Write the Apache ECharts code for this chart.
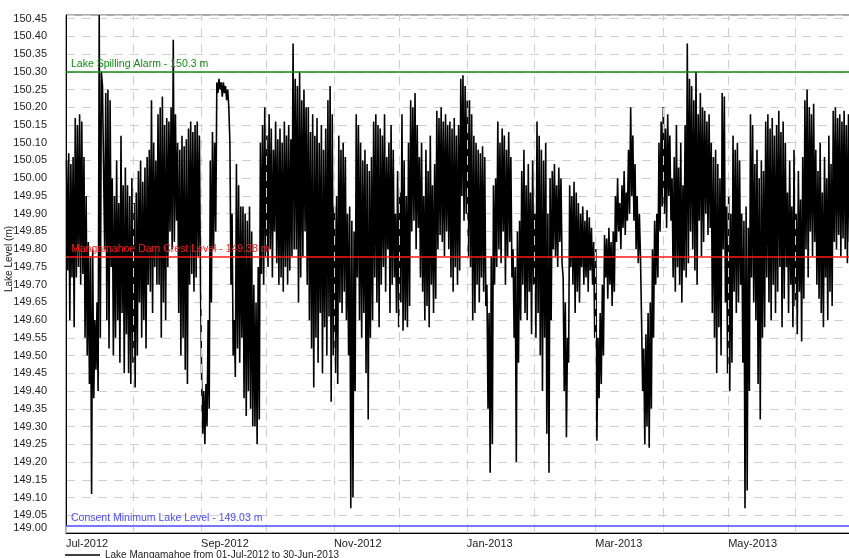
<!DOCTYPE html>
<html>
<head>
<meta charset="utf-8">
<script src="https://cdn.jsdelivr.net/npm/echarts@6/dist/echarts.min.js"></script>
<style>
html,body{margin:0;padding:0;background:#fff;}
#chart{width:849px;height:558px;}
</style>
</head>
<body>
<div id="chart"></div>
<script>
// Daily high / low lake level readings (m)
const julHi = [150.05,150.07,150.04,150.06,150.17,150.15,150.18,150.16,150.06,149.95,149.82,149.78,149.80,149.60,149.65,150.46,150.30,150.26,150.24,150.25,150.22,150.00,149.95,150.05,149.93,150.12,149.98,150.03,149.98,149.95,150.00];
const julLo = [149.74,149.60,149.72,149.58,149.72,149.75,149.70,149.73,149.55,149.50,149.42,149.11,149.38,149.46,149.40,149.55,150.26,149.80,149.60,149.52,149.75,149.50,149.55,149.60,149.48,149.62,149.45,149.56,149.45,149.42,149.48];
const augHi = [149.93,149.96,150.02,150.05,149.99,150.03,150.06,150.08,150.22,150.10,150.05,150.18,150.20,150.23,150.15,150.17,150.16,150.20,150.39,150.18,150.10,150.08,150.12,150.09,150.11,150.14,150.16,150.13,150.15,150.16,150.12];
const augLo = [149.41,149.50,149.65,149.55,149.60,149.52,149.70,149.68,149.62,149.75,149.70,149.70,149.55,149.65,149.60,149.75,149.85,149.80,149.82,149.88,149.62,149.50,149.55,149.46,149.42,149.70,149.73,149.68,149.72,149.78,149.70];
const sepHi = [149.45,149.40,149.42,149.60,150.05,150.13,150.10,150.27,150.28,150.27,150.27,150.26,150.25,150.10,149.90,149.60,150.04,149.98,149.92,149.92,149.90,149.88,149.92,149.85,149.70,149.65,149.75,150.10,150.15,150.20];
const sepLo = [149.28,149.25,149.30,149.35,149.65,149.80,149.85,150.24,150.25,150.23,150.24,150.22,150.20,149.70,149.50,149.44,149.52,149.48,149.55,149.38,149.33,149.40,149.35,149.30,149.30,149.25,149.32,149.73,149.70,149.78];
const octHi = [150.12,150.18,150.14,150.08,150.16,150.11,150.14,150.10,150.16,150.12,150.15,150.11,150.38,150.28,150.26,150.30,150.22,150.25,150.20,150.20,150.13,150.18,150.12,150.17,150.10,150.15,150.08,150.14,150.22,150.26,150.18];
const octLo = [149.75,149.80,149.72,149.85,149.76,149.70,149.72,149.68,149.75,149.70,149.74,149.78,149.80,149.80,149.65,149.72,149.78,149.85,149.70,149.60,149.52,149.41,149.55,149.48,149.62,149.45,149.58,149.50,149.61,149.37,149.50];
const novHi = [149.92,149.95,150.12,150.08,150.10,150.06,149.90,149.92,149.88,149.85,150.18,150.15,150.10,150.05,150.08,150.04,150.02,150.06,150.16,150.18,150.15,150.14,150.12,150.18,150.06,150.10,150.15,150.08,149.90,150.02];
const novLo = [149.45,149.42,149.65,149.62,149.68,149.60,149.50,149.07,149.10,149.40,149.72,149.60,149.55,149.62,149.45,149.32,149.55,149.60,149.72,149.65,149.58,149.70,149.75,149.68,149.80,149.62,149.70,149.72,149.62,149.58];
const decHi = [149.96,150.18,150.05,149.95,150.10,150.22,150.20,150.24,150.15,150.06,150.10,149.95,150.08,150.02,150.12,149.98,150.04,150.19,150.17,150.20,150.16,150.18,150.15,150.16,150.14,150.17,150.12,150.15,150.28,150.29,150.26];
const decLo = [149.65,149.57,149.60,149.58,149.64,149.85,149.88,149.80,149.86,149.72,149.68,149.60,149.64,149.58,149.70,149.62,149.66,149.80,149.84,149.82,149.78,149.85,149.80,149.72,149.68,149.75,149.70,149.74,149.95,149.88,149.90];
const janHi = [150.22,150.22,150.18,150.12,150.10,150.08,150.07,150.09,150.06,149.70,149.62,149.78,149.98,150.00,150.16,150.10,150.14,150.12,150.08,150.13,150.06,149.80,149.75,149.85,149.88,150.02,150.08,149.98,150.04,149.96,150.05];
const janLo = [149.78,149.75,149.60,149.62,149.70,149.65,149.72,149.68,149.64,149.35,149.17,149.25,149.70,149.75,149.80,149.76,149.85,149.70,149.78,149.82,149.72,149.55,149.20,149.48,149.60,149.70,149.62,149.60,149.68,149.56,149.70];
const febHi = [149.90,150.16,150.12,150.08,150.05,150.10,149.90,150.00,150.02,150.04,149.98,150.03,150.00,149.72,149.65,149.55,149.98,149.95,149.99,149.96,149.93,149.90,149.92,149.88,149.91,149.89,149.86,149.82];
const febLo = [149.55,149.62,149.50,149.40,149.55,149.28,149.17,149.60,149.80,149.78,149.75,149.82,149.76,149.40,149.27,149.48,149.75,149.70,149.62,149.68,149.65,149.75,149.70,149.72,149.68,149.74,149.70,149.55];
const marHi = [149.80,149.55,149.62,149.70,149.84,149.83,149.86,149.82,149.85,149.95,150.00,149.93,149.98,150.02,149.96,150.08,150.20,150.12,150.04,149.95,149.90,149.60,149.52,149.56,149.62,149.65,149.80,149.88,149.90,150.10,150.16];
const marLo = [149.26,149.38,149.42,149.50,149.72,149.66,149.70,149.64,149.68,149.82,149.85,149.80,149.86,149.84,149.88,149.90,149.95,149.88,149.80,149.76,149.78,149.40,149.25,149.30,149.24,149.35,149.55,149.70,149.72,149.85,149.92];
const aprHi = [150.20,150.14,150.18,150.12,150.00,150.06,150.15,150.03,150.10,149.98,150.15,150.38,150.28,150.26,150.22,150.30,150.18,150.24,150.20,150.19,150.16,150.18,150.10,150.06,150.08,150.04,150.00,150.24,150.23,149.92];
const aprLo = [149.90,149.86,149.95,149.88,149.72,149.68,149.75,149.70,149.65,149.74,149.72,149.76,149.85,149.80,149.74,149.70,149.88,149.78,149.82,149.90,149.84,149.86,149.62,149.55,149.45,149.58,149.50,149.80,149.65,149.45];
const mayHi = [149.95,149.90,150.12,150.08,150.10,150.05,149.90,149.88,149.92,149.86,150.18,150.15,150.04,150.08,150.00,150.05,150.02,150.16,150.18,150.14,150.17,150.12,150.15,150.19,150.13,150.16,150.10,149.96,150.05,149.92,150.08];
const mayLo = [149.40,149.48,149.68,149.62,149.65,149.70,149.48,149.07,149.12,149.40,149.72,149.65,149.60,149.42,149.32,149.55,149.58,149.72,149.65,149.60,149.70,149.62,149.68,149.75,149.58,149.66,149.75,149.62,149.70,149.58,149.64];
const junHi = [149.90,150.02,149.94,150.06,150.22,150.25,150.20,150.18,150.21,150.08,150.02,150.10,149.96,150.06,150.00,150.12,150.04,150.19,150.20,150.17,150.18,150.16,150.19,150.15,150.18,150.14,150.17,150.16,150.15,150.18];
const junLo = [149.56,149.68,149.54,149.66,149.80,149.72,149.85,149.78,149.82,149.70,149.66,149.62,149.58,149.72,149.60,149.68,149.64,149.82,149.80,149.84,149.78,149.83,149.80,149.76,149.82,149.79,149.75,149.80,149.78,149.81];

// Axis tick labels
const monthTickLabels = ['Jul-2012','','Sep-2012','','Nov-2012','','Jan-2013','','Mar-2013','','May-2013','',''];
const tickYears  = [2012,2012,2012,2012,2012,2012,2013,2013,2013,2013,2013,2013,2013];
const tickMonths = [6,7,8,9,10,11,0,1,2,3,4,5,6];

// Reference levels
const refValues = [150.30, 149.78, 149.02];
const refLabels = ['Lake Spilling Alarm - 150.3 m','Mangamahoe Dam Crest Level - 149.38 m','Consent Minimum Lake Level - 149.03 m'];
const refColors = ['#138a13','#ff1a1a','#4b4bff'];

const seriesName = 'Lake Mangamahoe from 01-Jul-2012 to 30-Jun-2013';

const DAY = 86400000;
const t0 = Date.UTC(2012, 6, 1);
const allHi = [].concat(julHi,augHi,sepHi,octHi,novHi,decHi,janHi,febHi,marHi,aprHi,mayHi,junHi);
const allLo = [].concat(julLo,augLo,sepLo,octLo,novLo,decLo,janLo,febLo,marLo,aprLo,mayLo,junLo);
const data = [];
for (let d = 0; d < allHi.length; d++) {
  data.push([t0 + (d + 0.25) * DAY, allHi[d]]);
  data.push([t0 + (d + 0.75) * DAY, allLo[d]]);
}
const tickValues = tickYears.map((y, i) => Date.UTC(y, tickMonths[i], 1));
const labelValues = tickValues.filter((v, i) => monthTickLabels[i] !== '');

const chart = echarts.init(document.getElementById('chart'), null, {renderer: 'canvas'});
const FONT = 'Liberation Sans, Arial, sans-serif';
const gridLineStyle = {type: [9, 7], color: '#cfcfcf', width: 1};
chart.setOption({
  animation: false,
  backgroundColor: '#fff',
  textStyle: {fontFamily: FONT},
  grid: {left: 66, top: 15, width: 795, height: 518, show: true, borderColor: '#555', borderWidth: 1, containLabel: false, outerBoundsMode: 'none'},
  legend: {
    data: [{name: seriesName, icon: 'rect'}], left: 65, top: 550, padding: 0, itemWidth: 35, itemHeight: 1.5, itemGap: 5,
    itemStyle: {color: '#000'},
    textStyle: {fontSize: 10, color: '#222', fontFamily: FONT}
  },
  xAxis: {
    type: 'value', min: t0, max: tickValues[tickValues.length - 1],
    axisLine: {lineStyle: {color: '#000', width: 1}},
    axisTick: {show: true, inside: true, length: 7, customValues: tickValues, lineStyle: {color: '#bbb'}},
    splitLine: {show: false},
    axisLabel: {
      customValues: labelValues, align: 'left', margin: 5,
      fontSize: 11, color: '#222', fontFamily: FONT,
      formatter: function (v) { const i = tickValues.indexOf(v); return i >= 0 ? monthTickLabels[i] : ''; }
    }
  },
  yAxis: {
    type: 'value', min: 149, max: 150.46, interval: 0.05,
    name: 'Lake Level (m)', nameLocation: 'middle', nameGap: 52, nameRotate: 90, nameMoveOverlap: false,
    nameTextStyle: {fontSize: 10, color: '#222', fontFamily: FONT, padding: [0, 0, 0, 30]},
    axisLine: {show: true, lineStyle: {color: '#000', width: 1}},
    axisTick: {show: false},
    splitLine: {show: true, lineStyle: gridLineStyle},
    axisLabel: {
      fontSize: 11, color: '#222', margin: 19, fontFamily: FONT, showMaxLabel: false,
      verticalAlignMinLabel: 'bottom',
      formatter: function (v) { return v.toFixed(2); }
    }
  },
  series: [{
    // vertical month grid lines, drawn beneath the data
    name: 'monthGrid', type: 'line', data: [], z: 1, silent: true,
    markLine: {
      silent: true, symbol: 'none', animation: false, label: {show: false},
      lineStyle: gridLineStyle,
      data: tickValues.slice(1).map(v => ({xAxis: v}))
    }
  }, {
    name: seriesName, type: 'line', data: data, symbol: 'none', showSymbol: false, z: 3,
    sampling: null, lineStyle: {color: '#000', width: 1.6}, itemStyle: {color: '#000'},
    markLine: {
      silent: true, symbol: 'none', animation: false,
      data: refValues.map((v, i) => ({
        yAxis: v,
        lineStyle: {color: refColors[i], width: 1.5, type: 'solid'},
        label: {show: true, position: 'insideStartTop', formatter: refLabels[i], color: refColors[i], fontSize: 10.5, fontFamily: FONT, distance: [5, 2]}
      }))
    }
  }]
});
</script>
</body>
</html>
